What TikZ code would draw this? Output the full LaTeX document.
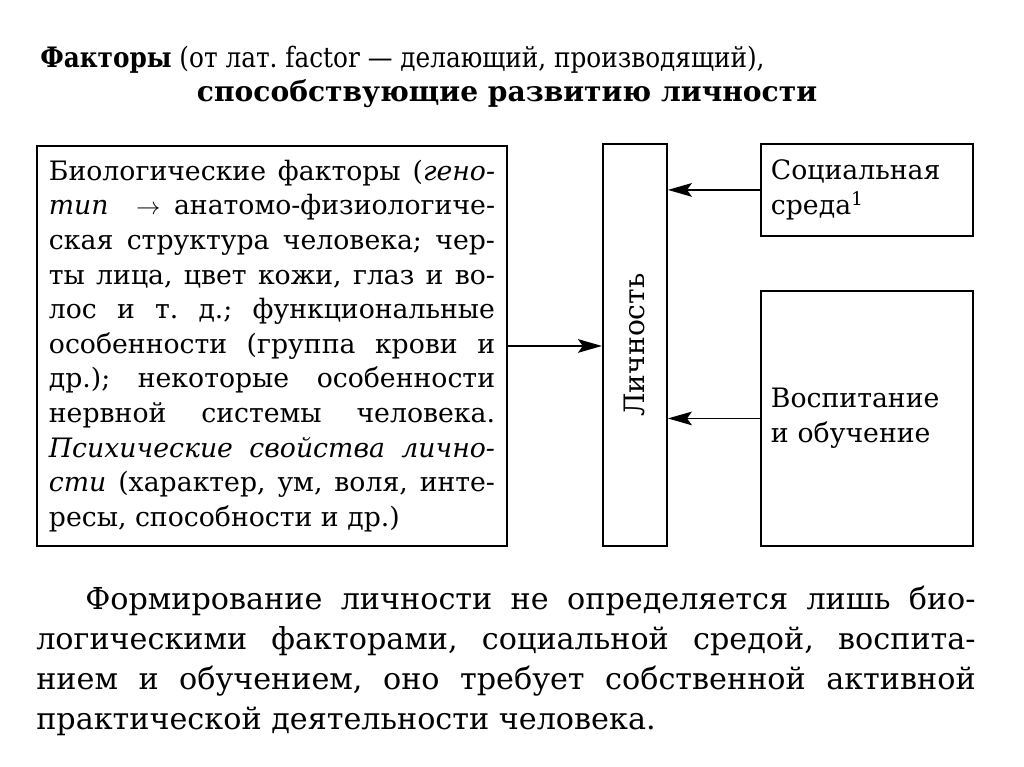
\documentclass[tikz,border=0pt]{standalone}
\usepackage{fontspec}
\setmainfont{DejaVu Serif}
\newfontfamily\narrowserif[FakeStretch=0.88]{DejaVu Serif}
\usetikzlibrary{arrows.meta, positioning}
\frenchspacing

\tikzset{
    framebox/.style={draw, line width=1.3pt, inner sep=0pt},
    feedarrow/.style={-{Stealth[length=6mm, width=3.4mm, inset=1.2mm]}, line width=1.3pt},
}

\begin{document}
\begin{tikzpicture}[x=0.025cm, y=-0.025cm]
    \useasboundingbox (0,0) rectangle (1024,767);

    \node[anchor=base west, inner sep=0pt, font=\narrowserif\fontsize{20}{24}\selectfont] (title) at (40,68)
        {\textbf{Факторы} (от лат. factor — делающий, производящий),};
    \node[anchor=base, inner sep=0pt, font=\bfseries\fontsize{20}{24}\selectfont] (subtitle) at (507,102)
        {способствующие развитию личности};

    \node[
        framebox,
        anchor=north west,
        minimum width=11.725cm,
        minimum height=10cm,
        text width=11.15cm,
        inner xsep=0.3cm,
        align=justify,
        font=\fontsize{19}{24.6}\selectfont
    ] (bio) at (36,145) {
        Биологические факторы (\textit{гено-}\linebreak
        \textit{тип}~~$\rightarrow$ анатомо-физиологиче-\linebreak
        ская структура человека; чер-\linebreak
        ты лица, цвет кожи, глаз и во-\linebreak
        лос и т. д.; функциональные\linebreak
        особенности (группа крови и\linebreak
        др.); некоторые особенности\linebreak
        нервной системы человека.\linebreak
        \textit{Психические свойства лично-}\linebreak
        \textit{сти} (характер, ум, воля, инте-\linebreak
        ресы, способности и др.)
    };

    \node[framebox, anchor=north west, minimum width=1.6cm, minimum height=10.05cm,
        font=\fontsize{20}{24}\selectfont] (person) at (602,143) {\rotatebox{90}{Личность}};

    \node[framebox, anchor=north west, minimum width=5.3cm, minimum height=2.3cm,
        text width=4.8cm, inner xsep=0.25cm, align=left,
        font=\fontsize{19}{24.6}\selectfont] (social) at (760,143) {Социальная\\среда\textsuperscript{1}};

    \node[framebox, anchor=north west, minimum width=5.3cm, minimum height=6.375cm,
        text width=4.8cm, inner xsep=0.25cm, align=left,
        font=\fontsize{19}{24.6}\selectfont] (upbringing) at (760,290) {Воспитание\\и обучение};

    \draw[feedarrow] (bio.east) -- (person.west |- bio.east);
    \draw[feedarrow] (social.west) -- (person.east |- social.west);
    \draw[feedarrow] (upbringing.west) -- (person.east |- upbringing.west);

    \node[anchor=north west, inner sep=0pt, text width=23.475cm, align=justify,
        font=\fontsize{21.5}{28.45}\selectfont] (summary) at (36,586) {
        \hspace*{1.225cm}Формирование личности не определяется лишь био-\linebreak
        логическими факторами, социальной средой, воспита-\linebreak
        нием и обучением, оно требует собственной активной\linebreak
        практической деятельности человека.
    };
\end{tikzpicture}
\end{document}
